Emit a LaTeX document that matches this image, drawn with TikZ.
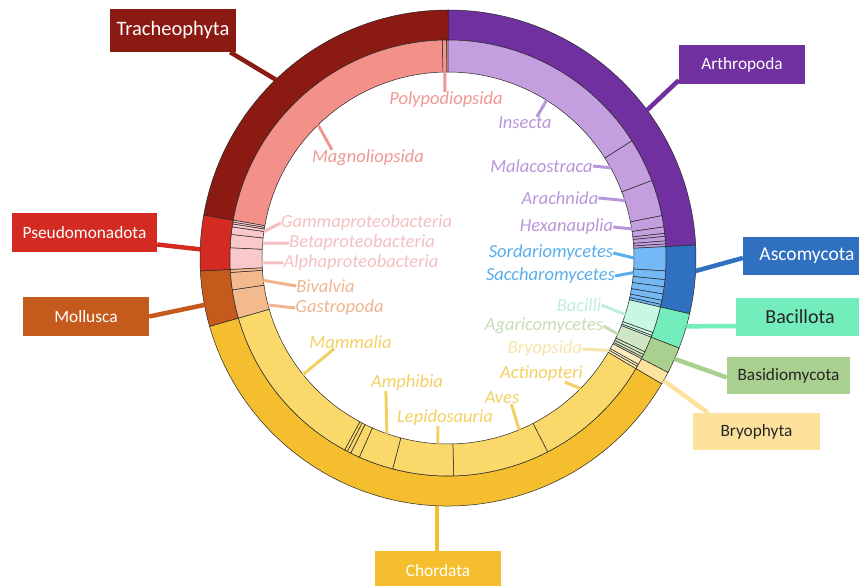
\documentclass[tikz,border=0pt]{standalone}
\usepackage{fontspec}
\setmainfont{Carlito}
\usetikzlibrary{calc,positioning}

% colours: D = phylum ring, L = class ring, T = class labels
\definecolor{trachD}{HTML}{8B1A12}
\definecolor{trachL}{HTML}{F4908A}
\definecolor{trachT}{HTML}{EF9893}
\definecolor{arthD}{HTML}{7030A0}
\definecolor{arthL}{HTML}{C39FE0}
\definecolor{arthT}{HTML}{B896DA}
\definecolor{ascoD}{HTML}{2F70C1}
\definecolor{ascoL}{HTML}{74B8F6}
\definecolor{ascoT}{HTML}{5AAEEB}
\definecolor{baciD}{HTML}{72EDBB}
\definecolor{baciL}{HTML}{C8F8E3}
\definecolor{baciT}{HTML}{BDF0DA}
\definecolor{basiD}{HTML}{A9D08E}
\definecolor{basiL}{HTML}{D0E5C2}
\definecolor{basiT}{HTML}{C6DDB6}
\definecolor{bryoD}{HTML}{FCE29C}
\definecolor{bryoL}{HTML}{FDEDBE}
\definecolor{bryoT}{HTML}{F8E4AA}
\definecolor{chorD}{HTML}{F5BE2E}
\definecolor{chorL}{HTML}{FAD869}
\definecolor{chorT}{HTML}{F3D064}
\definecolor{mollD}{HTML}{C45B1D}
\definecolor{mollL}{HTML}{F3BA8E}
\definecolor{mollT}{HTML}{EFB58E}
\definecolor{pseuD}{HTML}{D32A22}
\definecolor{pseuL}{HTML}{F9C8CA}
\definecolor{pseuT}{HTML}{F4BFC2}

% ring radii
\newcommand{\Rout}{248}
\newcommand{\Rmid}{218}
\newcommand{\Rin}{186}

% segments of the outer (phylum) and inner (class) ring
\newcommand{\phylumseg}[3]{\filldraw[seg,fill=#1] (#2:\Rout) arc[start angle=#2,end angle=#3,radius=\Rout] -- (#3:\Rmid) arc[start angle=#3,end angle=#2,radius=\Rmid] -- cycle;}
\newcommand{\classseg}[3]{\filldraw[seg,fill=#1] (#2:\Rmid) arc[start angle=#2,end angle=#3,radius=\Rmid] -- (#3:\Rin) arc[start angle=#3,end angle=#2,radius=\Rin] -- cycle;}

\begin{document}
\begin{tikzpicture}[x=1pt, y=1pt]

\clip (-448,-328) rectangle (411,258);

% Segment outline
\tikzstyle{seg}=[draw=black!85, line width=0.5pt]
% Phylum boxes
\tikzstyle{phylum}=[minimum width=126pt, minimum height=39pt, inner sep=0pt, text=white, font=\fontsize{17.3}{20}\selectfont]
% Class labels
\tikzstyle{klass}=[inner sep=0pt, font=\fontsize{18.5}{20}\selectfont\itshape]
% leader lines
\tikzstyle{lead}=[line width=4.5pt]
\tikzstyle{tick}=[line width=3pt]

%%%%%%%%%%%%%%%%%%%%%%%%%%%%%%%%%%%%%%%%%%%%%%%%%%%%%%%%%%%%%%%
%
%       Phylum ring
%
\phylumseg{arthD}{90}{3}
\phylumseg{ascoD}{3}{-13}
\phylumseg{baciD}{-13}{-21.3}
\phylumseg{basiD}{-21.3}{-27.5}
\phylumseg{bryoD}{-27.5}{-30.5}
\phylumseg{chorD}{-30.5}{-164}
\phylumseg{mollD}{196}{183}
\phylumseg{pseuD}{183}{170}
\phylumseg{trachD}{170}{90}

%%%%%%%%%%%%%%%%%%%%%%%%%%%%%%%%%%%%%%%%%%%%%%%%%%%%%%%%%%%%%%%
%
%       Class ring
%
% Tracheophyta
\classseg{trachL}{170}{91.5}
\classseg{trachL}{91.5}{90.4}
\classseg{trachL}{90.4}{90}
% Arthropoda
\classseg{arthL}{90}{32.5}
\classseg{arthL}{32.5}{20.8}
\classseg{arthL}{20.8}{11.2}
\classseg{arthL}{11.2}{8.2}
\classseg{arthL}{8.2}{6.5}
\classseg{arthL}{6.5}{5.7}
\classseg{arthL}{5.7}{4.5}
\classseg{arthL}{4.5}{3.7}
\classseg{arthL}{3.7}{3}
% Ascomycota
\classseg{ascoL}{3}{-3.4}
\classseg{ascoL}{-3.4}{-5.7}
\classseg{ascoL}{-5.7}{-7.6}
\classseg{ascoL}{-7.6}{-9.5}
\classseg{ascoL}{-9.5}{-11.2}
\classseg{ascoL}{-11.2}{-12.3}
\classseg{ascoL}{-12.3}{-13}
% Bacillota
\classseg{baciL}{-13}{-20}
\classseg{baciL}{-20}{-20.8}
\classseg{baciL}{-20.8}{-21.3}
% Basidiomycota
\classseg{basiL}{-21.3}{-25.5}
\classseg{basiL}{-25.5}{-26.3}
\classseg{basiL}{-26.3}{-27}
\classseg{basiL}{-27}{-27.5}
% Bryophyta
\classseg{bryoL}{-27.5}{-29.2}
\classseg{bryoL}{-29.2}{-29.8}
\classseg{bryoL}{-29.8}{-30.5}
% Chordata
\classseg{chorL}{-30.5}{-62.8}
\classseg{chorL}{-62.8}{-88.5}
\classseg{chorL}{-88.5}{-104.7}
\classseg{chorL}{-104.7}{-114}
\classseg{chorL}{-114}{-116.5}
\classseg{chorL}{-116.5}{-117.5}
\classseg{chorL}{-117.5}{-118.3}
\classseg{chorL}{-118.3}{-164}
% Mollusca
\classseg{mollL}{196}{188.4}
\classseg{mollL}{188.4}{183.8}
\classseg{mollL}{183.8}{183}
% Pseudomonadota
\classseg{pseuL}{183}{177.3}
\classseg{pseuL}{177.3}{173.8}
\classseg{pseuL}{173.8}{171.8}
\classseg{pseuL}{171.8}{171}
\classseg{pseuL}{171}{170.5}
\classseg{pseuL}{170.5}{170}

%%%%%%%%%%%%%%%%%%%%%%%%%%%%%%%%%%%%%%%%%%%%%%%%%%%%%%%%%%%%%%%
%
%       Phylum boxes
%
\node (trach) [phylum, fill=trachD, minimum height=43pt, font=\fontsize{20.5}{22}\selectfont] at (-275,227.5) {Tracheophyta};
\node (arth)  [phylum, fill=arthD] at (294,193.5) {Arthropoda};
\node (asco)  [phylum, fill=ascoD, minimum width=128pt, minimum height=38pt, font=\fontsize{19.5}{22}\selectfont] at (359,2) {Ascomycota};
\node (baci)  [phylum, fill=baciD, text=black!85, minimum width=128pt, minimum height=38pt, font=\fontsize{20}{22}\selectfont] at (352,-59) {Bacillota};
\node (basi)  [phylum, fill=basiD, text=black!85, minimum width=123pt, minimum height=37pt] at (340.5,-117.5) {Basidiomycota};
\node (bryo)  [phylum, fill=bryoD, text=black!85, minimum width=127pt, minimum height=37pt] at (308.5,-173.5) {Bryophyta};
\node (chor)  [phylum, fill=chorD, minimum height=40pt] at (-10,-313) {Chordata};
\node (moll)  [phylum, fill=mollD] at (-362,-58.5) {Mollusca};
\node (pseu)  [phylum, fill=pseuD, minimum width=145pt] at (-363.5,25.5) {Pseudomonadota};

\coordinate (trachR) at (134:\Rout);
\coordinate (arthR)  at (36.6:\Rout);
\coordinate (ascoR)  at (-3:\Rout);
\coordinate (baciR)  at (-16:\Rout);
\coordinate (basiR)  at (-24:\Rout);
\coordinate (bryoR)  at (-29.6:\Rout);
\coordinate (chorR)  at (-92.5:\Rout);
\coordinate (mollR)  at (190.9:\Rout);
\coordinate (pseuR)  at (178:\Rout);

\draw[lead, trachD] ([xshift=-6pt]trach.south east) -- (trachR);
\draw[lead, arthD]  ([yshift=4pt]arth.south west) -- (arthR);
\draw[lead, ascoD]  ([yshift=-2pt]asco.west) -- (ascoR);
\draw[lead, baciD]  ([yshift=-9pt]baci.west) -- (baciR);
\draw[lead, basiD]  ([yshift=-2pt]basi.west) -- (basiR);
\draw[lead, bryoD]  ([xshift=15pt]bryo.north west) -- (bryoR);
\draw[lead, chorD]  (chorR) -- (chorR |- chor.north);
\draw[lead, mollD]  (moll.east) -- (mollR);
\draw[lead, pseuD]  ([yshift=-12pt]pseu.east) -- (pseuR);

%%%%%%%%%%%%%%%%%%%%%%%%%%%%%%%%%%%%%%%%%%%%%%%%%%%%%%%%%%%%%%%
%
%       Class labels
%
% Tracheophyta
\node (polyp) [klass, text=trachT] at (-2,158)  {Polypodiopsida};
\node (magno) [klass, text=trachT] at (-80,100) {Magnoliopsida};
\coordinate (polypR) at (90.9:214);
\coordinate (magnoR) at (134.3:\Rin);
\draw[tick, trachT] ([xshift=-1pt]polyp.north) -- (polypR);
\draw[tick, trachT] ([xshift=20pt]magno.north west) -- (magnoR);

% Arthropoda
\node (insec) [klass, text=arthT] at (77,135)    {Insecta};
\node (malac) [klass, text=arthT] at (93.5,92)   {Malacostraca};
\node (arach) [klass, text=arthT] at (112,60)    {Arachnida};
\node (hexan) [klass, text=arthT] at (118.5,31)  {Hexanauplia};
\coordinate (insecR) at (58:\Rin);
\coordinate (malacR) at (29:\Rin);
\coordinate (arachR) at (18:\Rin);
\coordinate (hexanR) at (9:\Rin);
\draw[tick, arthT] ([xshift=-15pt]insec.north east) -- (insecR);
\draw[tick, arthT] (malac.east) -- (malacR);
\draw[tick, arthT] (arach.east) -- (arachR);
\draw[tick, arthT] (hexan.east) -- (hexanR);

% Ascomycota
\node (sorda) [klass, text=ascoT] at (103,5)     {Sordariomycetes};
\node (sacch) [klass, text=ascoT] at (102.5,-18) {Saccharomycetes};
\coordinate (sordaR) at (0:\Rin);
\coordinate (sacchR) at (-4.5:\Rin);
\draw[tick, ascoT] (sorda.east) -- (sordaR);
\draw[tick, ascoT] (sacch.east) -- (sacchR);

% Bacillota, Basidiomycota, Bryophyta
\node (bacil) [klass, text=baciT] at (131,-47)  {Bacilli};
\node (agari) [klass, text=basiT] at (96,-68)   {Agaricomycetes};
\node (bryop) [klass, text=bryoT] at (97,-91)   {Bryopsida};
\coordinate (bacilR) at (-17.7:\Rin);
\coordinate (agariR) at (-24.1:\Rin);
\coordinate (bryopR) at (-29.8:\Rin);
\draw[tick, baciT] (bacil.east) -- (bacilR);
\draw[tick, basiT] (agari.east) -- (agariR);
\draw[tick, bryoT] (bryop.east) -- (bryopR);

% Chordata
\node (actin) [klass, text=chorT] at (93.5,-116) {Actinopteri};
\node (aves)  [klass, text=chorT] at (54,-140)   {Aves};
\node (lepid) [klass, text=chorT] at (-3,-160)   {Lepidosauria};
\node (amphi) [klass, text=chorT] at (-41,-125)  {Amphibia};
\node (mamma) [klass, text=chorT] at (-97.5,-84) {Mammalia};
\coordinate (actinR) at (-44.6:\Rin);
\coordinate (avesR)  at (-67.5:\Rin);
\coordinate (lepidR) at (-93.1:\Rin);
\coordinate (amphiR) at (-109.2:\Rin);
\coordinate (mammaR) at (218.8:\Rin);
\draw[tick, chorT] ([xshift=-18pt]actin.south east) -- (actinR);
\draw[tick, chorT] ([xshift=-8pt]aves.south east) -- (avesR);
\draw[tick, chorT] ([xshift=-7pt]lepid.south) -- (lepidR);
\draw[tick, chorT] ([xshift=15pt]amphi.south west) -- (amphiR);
\draw[tick, chorT] ([xshift=25pt]mamma.south west) -- (mammaR);

% Mollusca
\node (bival) [klass, text=mollT] at (-122.5,-28) {Bivalvia};
\node (gastr) [klass, text=mollT] at (-108.5,-50) {Gastropoda};
\coordinate (bivalR) at (186.9:\Rin);
\coordinate (gastrR) at (194.6:\Rin);
\draw[tick, mollT] (bival.west) -- (bivalR);
\draw[tick, mollT] (gastr.west) -- (gastrR);

% Pseudomonadota
\node (gamma) [klass, text=pseuT] at (-81.5,35) {Gammaproteobacteria};
\node (beta)  [klass, text=pseuT] at (-86,15)   {Betaproteobacteria};
\node (alpha) [klass, text=pseuT] at (-87,-5)   {Alphaproteobacteria};
\coordinate (gammaR) at (171.9:\Rin);
\coordinate (betaR)  at (175.4:\Rin);
\coordinate (alphaR) at (181.5:\Rin);
\draw[tick, pseuT] (gamma.west) -- (gammaR);
\draw[tick, pseuT] (beta.west) -- (betaR);
\draw[tick, pseuT] (alpha.west) -- (alphaR);

\end{tikzpicture}
\end{document}
